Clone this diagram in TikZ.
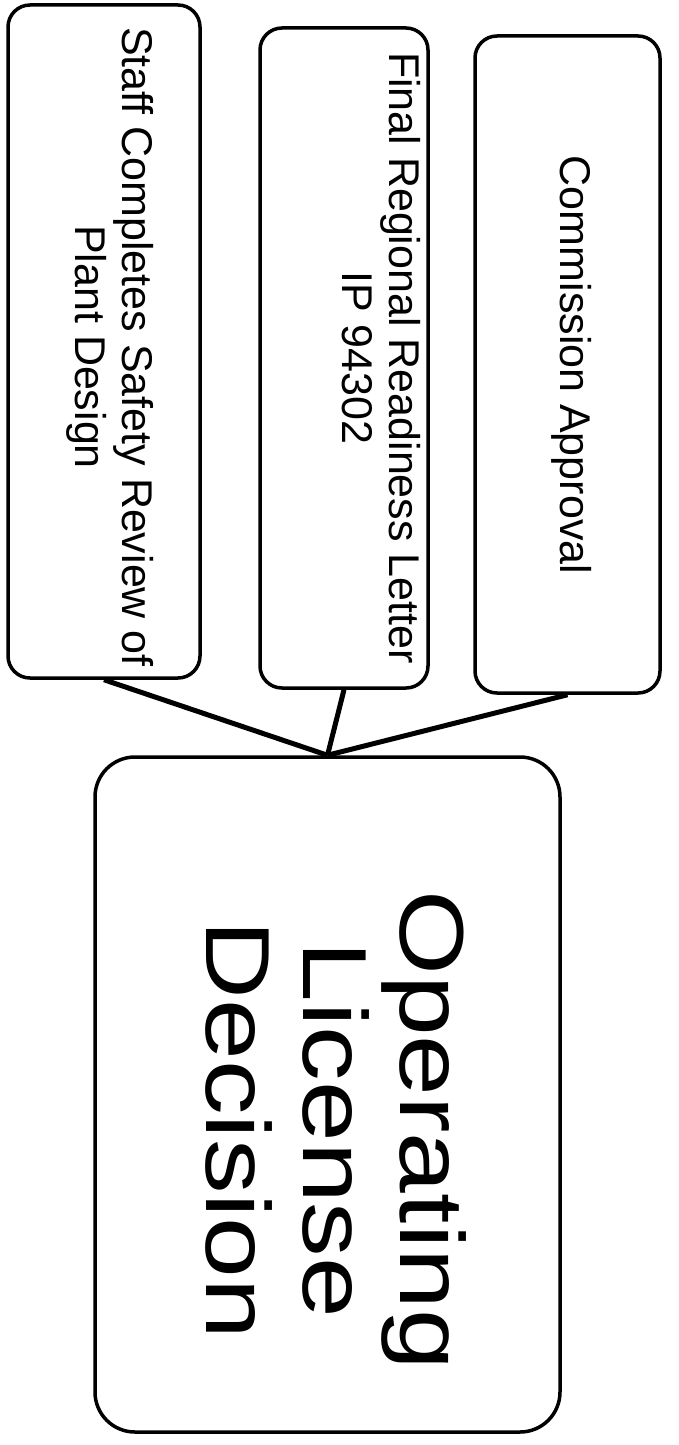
\documentclass[tikz,border=0pt]{standalone}
\usepackage{fontspec}
\setmainfont{Liberation Sans}

\begin{document}
\begin{tikzpicture}[x=1pt, y=-1pt,
    stepbox/.style={draw, line width=3.5pt, rounded corners=22pt, inner sep=0pt},
    bigbox/.style={draw, line width=3.5pt, rounded corners=40pt, inner sep=0pt},
    boxtext/.style={inner sep=0pt, rotate=-90, align=center, font=\fontsize{43}{47}\selectfont},
    bigtext/.style={inner sep=0pt, rotate=-90, xscale=1.2, align=center, font=\fontsize{91}{97}\selectfont},
    link/.style={line width=5pt}]

    % Fix the page size
    \useasboundingbox (0,0) rectangle (678,1445);

    % The three boxes on top
    \node[stepbox, minimum width=192, minimum height=673] (staff) at (104,341.5) {};
    \node[stepbox, minimum width=168, minimum height=660] (final) at (344,358) {};
    \node[stepbox, minimum width=185, minimum height=657] (commission) at (567.5,364.5) {};

    % The decision box
    \node[bigbox, minimum width=465, minimum height=675] (decision) at (327.5,1094.5) {};

    % Texts, turned to read downwards
    \node[boxtext] (stafftext) at (110,347) {Staff Completes Safety Review of\\Plant Design};
    \node[boxtext] (finaltext) at (381,358) {Final Regional Readiness Letter\\IP 94302};
    \node[boxtext] (commissiontext) at (572,365) {Commission Approval};
    \node[bigtext] (decisiontext) at (336,1130) {Operating\\License\\Decision};

    % Lines into the decision box
    \draw[link] (staff.south) -- (decision.north);
    \draw[link] (final.south) -- (decision.north);
    \draw[link] (commission.south) -- (decision.north);

\end{tikzpicture}
\end{document}
